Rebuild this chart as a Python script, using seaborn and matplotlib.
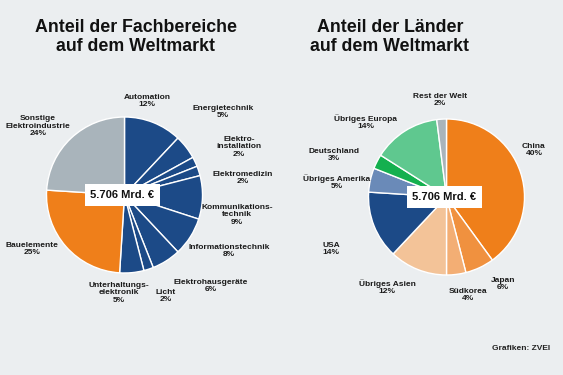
import matplotlib
matplotlib.use("Agg")
import matplotlib.pyplot as plt
import seaborn as sns

# data
fach_labels = ["Automation", "Energietechnik", "Elektro-\ninstallation", "Elektromedizin",
               "Kommunikations-\ntechnik", "Informationstechnik", "Elektrohausgeräte", "Licht",
               "Unterhaltungs-\nelektronik", "Bauelemente", "Sonstige\nElektroindustrie"]
fach_values = [12, 5, 2, 2, 9, 8, 6, 2, 5, 25, 24]

land_labels = ["China", "Japan", "Südkorea", "Übriges Asien", "USA", "Übriges Amerika",
               "Deutschland", "Übriges Europa", "Rest der Welt"]
land_values = [40, 6, 4, 12, 14, 5, 3, 14, 2]

total_label = "5.706 Mrd. €"

# colors
blue = "#1c4a87"
orange = "#ef7f1a"
grey = "#a9b4bb"
fach_colors = [blue] * 9 + [orange, grey]
land_colors = [orange, "#f0913f", "#f3ae74", "#f3c398", blue, "#6a8ab8", "#14b04f", "#5fc88f", grey]

# label positions in pixels (x, y from top)
fach_pos = [(147, 101), (223, 112), (239, 147), (243, 178), (237, 215), (229, 251),
            (211, 286), (166, 296), (119, 293), (32, 249), (38, 126)]
land_pos = [(534, 150), (503, 284), (468, 295), (387, 287), (331, 249), (337, 182),
            (334, 155), (366, 122), (440, 100)]

bg = "#ebeef0"
sns.set_theme(style="white")
plt.rcParams["font.family"] = ["Liberation Sans", "DejaVu Sans"]

W, H = 563, 375
fig = plt.figure(figsize=(W / 100, H / 100), dpi=100, facecolor=bg)
ax = fig.add_axes([0, 0, 1, 1])
ax.set_facecolor(bg)


def draw_pie(values, labels, colors, center, positions):
    cx, cy = center
    ax.pie(values, colors=colors, startangle=90, counterclock=False,
           center=(cx, H - cy), radius=78,
           wedgeprops=dict(edgecolor="white", linewidth=1))
    for lab, val, (px, py) in zip(labels, values, positions):
        ax.text(px, H - py, f"{lab}\n{val}%", ha="center", va="center",
                fontsize=6, fontweight="bold", color="#1a1a1a", linespacing=1.15)
    ax.text(cx - 2, H - cy, total_label, ha="center", va="center", fontsize=8,
            fontweight="bold", color="#111111",
            bbox=dict(boxstyle="square,pad=0.5", facecolor="white", edgecolor="none"))


draw_pie(fach_values, fach_labels, fach_colors, (124.5, 195), fach_pos)
draw_pie(land_values, land_labels, land_colors, (446.5, 197), land_pos)

ax.text(136, H - 37, "Anteil der Fachbereiche\nauf dem Weltmarkt", ha="center", va="center",
        fontsize=12.8, fontweight="bold", color="#111111", linespacing=1.1)
ax.text(390, H - 37, "Anteil der Länder\nauf dem Weltmarkt", ha="center", va="center",
        fontsize=12.8, fontweight="bold", color="#111111", linespacing=1.1)
ax.text(550, H - 349, "Grafiken: ZVEI", ha="right", va="center", fontsize=6,
        fontweight="bold", color="#222222")

ax.set_xlim(0, W)
ax.set_ylim(0, H)
ax.set_aspect("equal")
ax.axis("off")

fig.savefig("out.png", dpi=100, facecolor=bg)
